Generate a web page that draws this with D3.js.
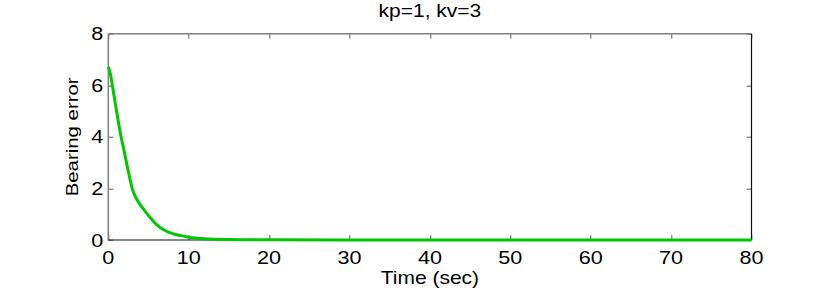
<!DOCTYPE html>
<html>
<head>
<meta charset="utf-8">
<script src="https://cdn.jsdelivr.net/npm/d3@7"></script>
<style>
  body { margin: 0; background: #fff; }
  svg text { font-family: "Liberation Sans", Arial, Helvetica, sans-serif; fill: #000; }
</style>
</head>
<body>
<div id="chart"></div>
<script>
// bearing error
let timeSec = [0, 0.25, 0.5, 1, 1.5, 2, 2.5, 3, 3.25, 3.5, 4, 4.5, 5, 6, 7, 8, 9, 10, 12, 15, 20, 30, 40, 50, 60, 70, 80];
let bearingErr = [6.72, 6.45, 6.0, 5.05, 4.15, 3.4, 2.65, 1.97, 1.76, 1.6, 1.35, 1.15, 0.95, 0.6, 0.38, 0.25, 0.17, 0.11, 0.05, 0.02, 0.005, 0, 0, 0, 0, 0, 0];
let xTicks = [0, 10, 20, 30, 40, 50, 60, 70, 80];
let yTicks = [0, 2, 4, 6, 8];

let width = 830, height = 293;
let margin = { top: 33.7, left: 108.3, right: 830 - 751.5, bottom: 293 - 240 };
let innerW = width - margin.left - margin.right,
    innerH = height - margin.top - margin.bottom;
// the reference font runs wider than Arial along the reading direction
let stretch = 1.2;

let svg = d3.select('#chart')
  .append('svg')
  .attr('width', width)
  .attr('height', height);

let g = svg.append('g')
  .attr('transform', `translate(${margin.left}, ${margin.top})`);

let xScale = d3.scaleLinear().domain([0, 80]).range([0, innerW]);
let yScale = d3.scaleLinear().domain([0, 8]).range([innerH, 0]);

// ticks pointing inward on all four sides
let tickLen = 5;
let ticks = g.append('g').attr('stroke', '#606060').attr('stroke-width', 1);
xTicks.forEach(t => {
  let x = Math.round(xScale(t)) + 0.5;
  ticks.append('line').attr('x1', x).attr('x2', x).attr('y1', innerH).attr('y2', innerH - tickLen);
  ticks.append('line').attr('x1', x).attr('x2', x).attr('y1', 0).attr('y2', tickLen);
});
yTicks.forEach(t => {
  let y = Math.round(yScale(t)) + 0.5;
  ticks.append('line').attr('x1', 0).attr('x2', tickLen).attr('y1', y).attr('y2', y);
  ticks.append('line').attr('x1', innerW).attr('x2', innerW - tickLen).attr('y1', y).attr('y2', y);
});

// box: top and left grey, right and bottom dark
g.append('line').attr('x1', 0).attr('x2', innerW).attr('y1', 0).attr('y2', 0)
  .attr('stroke', '#808080').attr('stroke-width', 1.5);
g.append('line').attr('x1', 0).attr('x2', 0).attr('y1', 0).attr('y2', innerH)
  .attr('stroke', '#808080').attr('stroke-width', 1.5);
g.append('line').attr('x1', innerW).attr('x2', innerW).attr('y1', 0).attr('y2', innerH)
  .attr('stroke', '#111').attr('stroke-width', 1.2);
g.append('line').attr('x1', 0).attr('x2', innerW).attr('y1', innerH).attr('y2', innerH)
  .attr('stroke', '#111').attr('stroke-width', 1.2);

// tick labels
g.selectAll('.xlab')
  .data(xTicks)
  .enter()
  .append('text')
    .attr('transform', d => `translate(${xScale(d)}, ${innerH + 23.5}) scale(${stretch}, 1)`)
    .style('text-anchor', 'middle')
    .style('font-size', '18px')
    .text(d => d);

g.selectAll('.ylab')
  .data(yTicks)
  .enter()
  .append('text')
    .attr('transform', d => `translate(-5, ${yScale(d) + 6.5}) scale(${stretch}, 1)`)
    .style('text-anchor', 'end')
    .style('font-size', '18px')
    .text(d => d);

// the curve
let line = d3.line()
  .x((d, i) => xScale(timeSec[i]))
  .y(d => yScale(d))
  .curve(d3.curveMonotoneX);

g.append('path')
  .datum(bearingErr)
  .attr('d', line)
  .attr('fill', 'none')
  .attr('stroke', '#00c800')
  .attr('stroke-width', 3)
  .attr('stroke-linejoin', 'round');

// title and axis labels
svg.append('text')
  .attr('transform', `translate(${margin.left + innerW / 2}, 16.7) scale(${stretch}, 1)`)
  .style('text-anchor', 'middle')
  .style('font-size', '17.5px')
  .text('kp=1, kv=3');

svg.append('text')
  .attr('transform', `translate(${margin.left + innerW / 2}, 284) scale(${stretch}, 1)`)
  .style('text-anchor', 'middle')
  .style('font-size', '17.5px')
  .text('Time (sec)');

svg.append('text')
  .attr('transform', `translate(78, ${margin.top + innerH / 2}) rotate(-90) scale(${stretch}, 1)`)
  .style('text-anchor', 'middle')
  .style('font-size', '17px')
  .text('Bearing error');
</script>
</body>
</html>
